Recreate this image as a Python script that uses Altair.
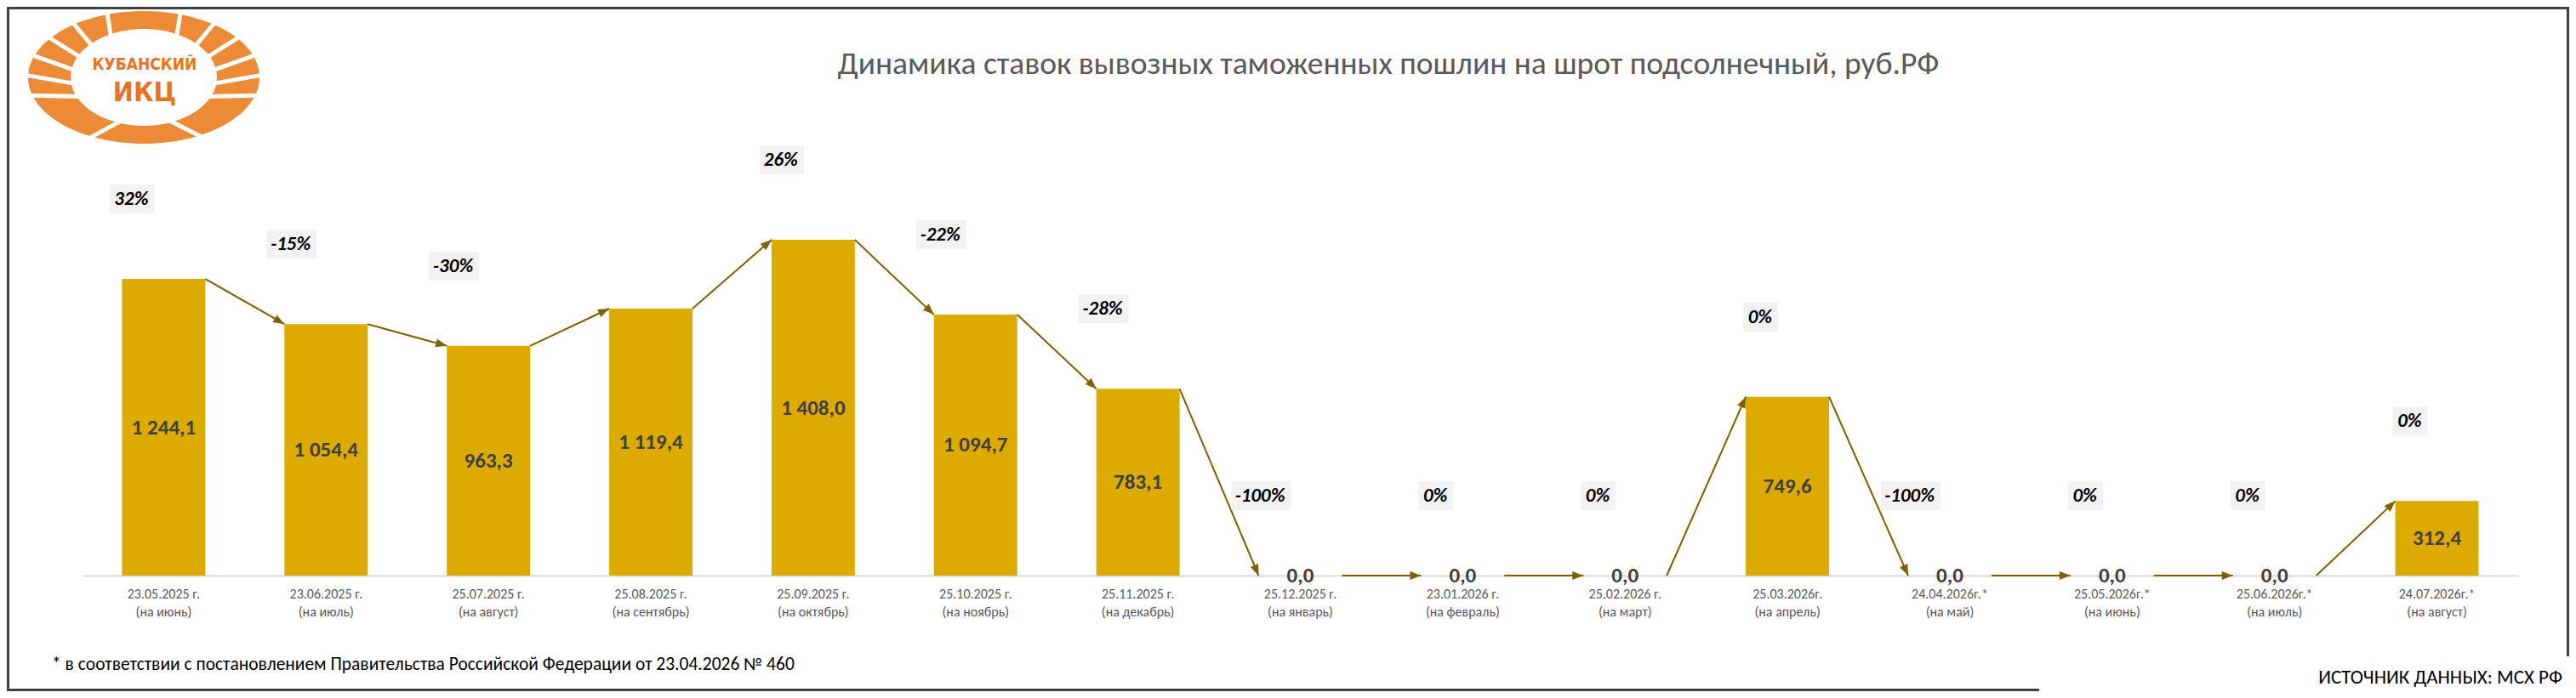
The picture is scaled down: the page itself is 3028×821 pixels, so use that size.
import math
import altair as alt
import pandas as pd

# ---------------- data ----------------
dates = ["23.05.2025 г.", "23.06.2025 г.", "25.07.2025 г.", "25.08.2025 г.", "25.09.2025 г.",
         "25.10.2025 г.", "25.11.2025 г.", "25.12.2025 г.", "23.01.2026 г.", "25.02.2026 г.",
         "25.03.2026г.", "24.04.2026г.*", "25.05.2026г.*", "25.06.2026г.*", "24.07.2026г.*"]
months = ["(на июнь)", "(на июль)", "(на август)", "(на сентябрь)", "(на октябрь)",
          "(на ноябрь)", "(на декабрь)", "(на январь)", "(на февраль)", "(на март)",
          "(на апрель)", "(на май)", "(на июнь)", "(на июль)", "(на август)"]
values = [1244.1, 1054.4, 963.3, 1119.4, 1408.0, 1094.7, 783.1, 0.0, 0.0, 0.0,
          749.6, 0.0, 0.0, 0.0, 312.4]
changes = ["32%", "-15%", "-30%", "", "26%", "-22%", "-28%", "-100%", "0%", "0%",
           "0%", "-100%", "0%", "0%", "0%"]

title_text = "Динамика ставок вывозных таможенных пошлин на шрот подсолнечный, руб.РФ"
footnote_text = "* в соответствии с постановлением Правительства Российской Федерации от 23.04.2026 № 460"
source_text = "ИСТОЧНИК ДАННЫХ: МСХ РФ"
logo_line1 = "КУБАНСКИЙ"
logo_line2 = "ИКЦ"

# ---------------- layout / style ----------------
W, H = 2863, 561
YMAX = 2000
PAD_IN, PAD_OUT = 0.487, 0.2435
STEP = W / len(dates)
BAND = STEP * (1 - PAD_IN)
HALF = BAND / 2
KY = H / YMAX

FONT = "Carlito, Calibri, 'Open Sans', sans-serif"
BAR_COLOR = "#DDAA00"
ARROW_COLOR = "#7F6000"
ORANGE = "#EC8A35"


def fmt(v):
    s = f"{v:,.1f}"
    return s.replace(",", "X").replace(".", ",").replace("X", " ")


def box_w(t):
    return 14 + sum(11 for c in t if c.isdigit()) + 16 * t.count("%") + 7 * t.count("-")


cats = [f"{d}|{m}" for d, m in zip(dates, months)]
df = pd.DataFrame({"cat": cats, "v": values, "lab": [fmt(v) for v in values], "chg": changes})
df["mid"] = df["v"] / 2
df["bw"] = [box_w(t) for t in changes]

# segments between consecutive bars: start (cat, v) -> end (cat2, v2)
seg = pd.DataFrame({
    "cat": cats[:-1], "cat2": cats[1:],
    "v": values[:-1], "v2": values[1:],
})
# arrow heads sit at the end of each segment
heads_df = pd.DataFrame({"cat": cats[1:], "v": values[1:]})
heads_df["ang"] = [
    (math.degrees(math.atan2(STEP - BAND, (b - a) * KY)) + 360) % 360
    for a, b in zip(values[:-1], values[1:])
]

x_scale = alt.Scale(domain=cats, paddingInner=PAD_IN, paddingOuter=PAD_OUT)
x_axis = alt.Axis(
    labelExpr="split(datum.value, '|')", labelAngle=0, labelOverlap=False,
    labelLimit=0, labelFont=FONT, labelFontSize=16, labelColor="#595959",
    labelLineHeight=21, labelPadding=13, ticks=False, tickSize=0,
    domainColor="#D9D9D9", domainWidth=2, grid=False, labelBaseline="top",
)
x_enc = alt.X("cat:N", sort=cats, title=None, scale=x_scale, axis=x_axis)
y_scale = alt.Scale(domain=[0, YMAX], nice=False, zero=True)
y_enc = alt.Y("v:Q", scale=y_scale, axis=None)

base = alt.Chart(df)

bars = base.mark_bar(color=BAR_COLOR).encode(x=x_enc, y=y_enc)

val_text = base.mark_text(
    font=FONT, fontSize=25, fontWeight="bold", color="#404040", baseline="middle"
).encode(x=x_enc, y=alt.Y("mid:Q", scale=y_scale, axis=None), text="lab:N")

arrows = alt.Chart(seg).mark_rule(
    color=ARROW_COLOR, strokeWidth=2, xOffset=HALF, x2Offset=-HALF
).encode(x=x_enc, x2="cat2:N", y=y_enc, y2="v2:Q")

heads = alt.Chart(heads_df).mark_point(
    shape="M0,0L5,13L-5,13Z", size=4, filled=True, color=ARROW_COLOR, opacity=1,
    xOffset=-HALF,
).encode(x=x_enc, y=y_enc, angle=alt.Angle("ang:Q", scale=None))

pct = base.transform_filter("datum.chg != ''")

boxes = pct.mark_bar(
    color="#F2F2F2", yOffset=-111, y2Offset=-77,
    xOffset={"expr": "-11 - datum.bw / 2"},
).encode(x=x_enc, y=y_enc, y2="v:Q", size=alt.Size("bw:Q", scale=None))

pct_text = pct.mark_text(
    font=FONT, fontSize=23, fontWeight="bold", fontStyle="italic", color="#000000",
    align="right", baseline="middle", dx=-18, dy=-94,
).encode(x=x_enc, y=y_enc, text="chg:N")

one = pd.DataFrame({"t": [0]})


def label(text, x, y, size, color="#000000", align="left", weight="normal", font=FONT):
    return alt.Chart(pd.DataFrame({"t": [text]})).mark_text(
        font=font, fontSize=size, color=color, align=align, baseline="middle",
        fontWeight=weight,
    ).encode(x=alt.value(x), y=alt.value(y), text="t:N")


title = label(title_text, 1535, -40, 37.5, color="#595959", align="center")
foot = label(footnote_text, -36, 666, 21.5)
source = label(source_text, 2915, 681, 23, align="right")

# ---------------- logo ----------------
LX, LY = 72, -25
RX, RY = 136, 78
IRX, IRY = 86, 57
outer_path = f"M{-RX},0A{RX},{RY} 0 1,1 {RX},0A{RX},{RY} 0 1,1 {-RX},0Z"
inner_path = f"M{-IRX},0A{IRX},{IRY} 0 1,1 {IRX},0A{IRX},{IRY} 0 1,1 {-IRX},0Z"
sep_angles = [205, 188, 171, 154, 137, 118, 62, 43, 26, 9, -8, -25, 252, 290]
parts = []
for a in sep_angles:
    t = math.radians(a)
    x1, y1 = (IRX - 4) * math.cos(t), -(IRY - 4) * math.sin(t)
    t2 = math.radians(a - 10 if 90 < a < 270 else a + 10)
    x2, y2 = (RX + 4) * math.cos(t2), -(RY + 4) * math.sin(t2)
    parts.append(f"M{x1:.1f},{y1:.1f}L{x2:.1f},{y2:.1f}")
sep_path = "".join(parts)


def logo_shape(path, **kw):
    return alt.Chart(one).mark_point(shape=path, size=4, opacity=1, **kw).encode(
        x=alt.value(LX), y=alt.value(LY)
    )


LOGO_FONT = "'DejaVu Sans Condensed', 'Liberation Sans Narrow', Roboto, sans-serif"
logo = [
    logo_shape(outer_path, filled=True, color=ORANGE),
    logo_shape(inner_path, filled=True, color="#FFFFFF"),
    logo_shape(sep_path, filled=False, stroke="#FFFFFF", strokeWidth=5),
    label(logo_line1, LX + 1, LY - 15, 19, color="#E8731E", align="center", weight="bold",
          font=LOGO_FONT),
    label(logo_line2, LX + 1, LY + 18, 32, color="#E8731E", align="center", weight="bold",
          font=LOGO_FONT),
]


# ---------------- frame ----------------
def frule(x1, x2, y1, y2):
    return alt.Chart(one).mark_rule(color="#404040", strokeWidth=3).encode(
        x=alt.value(x1), x2=alt.value(x2), y=alt.value(y1), y2=alt.value(y2)
    )


frame = [
    frule(-89, 2923, -106.5, -106.5),
    frule(-87.5, -87.5, -108, 697),
    frule(-89, 2300, 695.5, 695.5),
    frule(2921.5, 2921.5, -108, 656),
]

chart = alt.layer(
    bars, arrows, heads, boxes, pct_text, val_text, title, foot, source, *logo, *frame
).properties(
    width=W, height=H,
    padding={"left": 89, "top": 108, "right": 60, "bottom": 136},
    autosize=alt.AutoSizeParams(type="none"),
    background="#FFFFFF",
).configure_view(stroke=None)

chart.save("out.html", embed_options={"renderer": "svg", "actions": False})
